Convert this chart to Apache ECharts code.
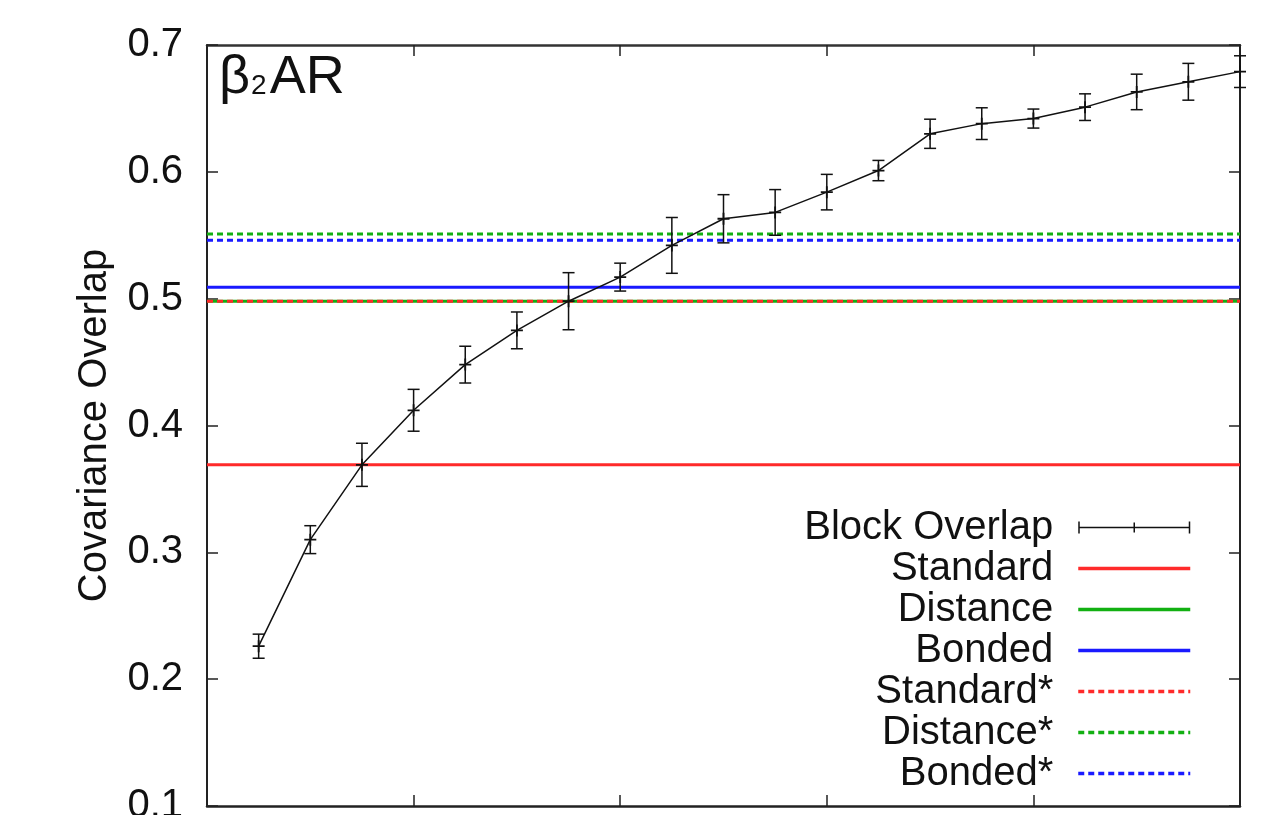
<!DOCTYPE html>
<html>
<head>
<meta charset="utf-8">
<script src="https://cdn.jsdelivr.net/npm/echarts@6/dist/echarts.min.js"></script>
<style>
  html, body { margin: 0; padding: 0; background: #ffffff; overflow: hidden; }
  #chart { width: 1272px; height: 815px; }
</style>
</head>
<body>
<div id="chart"></div>
<script>
// Block overlap vs. number of blocks, with the reference overlaps as flat lines
const blockIndex = [1, 2, 3, 4, 5, 6, 7, 8, 9, 10, 11, 12, 13, 14, 15, 16, 17, 18, 19, 20];
const blockOverlap = [0.226, 0.310, 0.369, 0.412, 0.448, 0.475, 0.498, 0.517, 0.542, 0.563,
                      0.568, 0.584, 0.601, 0.630, 0.638, 0.642, 0.651, 0.663, 0.671, 0.679];
const blockOverlapErr = [0.0095, 0.011, 0.017, 0.0165, 0.0145, 0.0145, 0.0225, 0.011, 0.022, 0.019,
                         0.018, 0.014, 0.008, 0.0115, 0.0125, 0.0075, 0.0105, 0.014, 0.0145, 0.0125];

const refNames = ['Standard', 'Distance', 'Bonded', 'Standard*', 'Distance*', 'Bonded*'];
const refValues = [0.369, 0.498, 0.509, 0.498, 0.551, 0.546];

const xRange = [0, 20];
const yRange = [0.1, 0.7];

const refColors = ['#ff2a2a', '#12b012', '#1a1aff', '#ff2a2a', '#12b012', '#1a1aff'];
const refDashed = [false, false, false, true, true, true];

const FONT = '"Liberation Sans", Arial, sans-serif';
const INK = '#111111';

const chart = echarts.init(document.getElementById('chart'), null, { renderer: 'canvas' });

const refSeries = refNames.map((name, i) => ({
  name: name,
  type: 'line',
  xAxisIndex: 0,
  yAxisIndex: 0,
  symbol: 'none',
  silent: true,
  z: 3 + i,
  data: [[xRange[0], refValues[i]], [xRange[1], refValues[i]]],
  lineStyle: {
    color: refColors[i],
    width: 3,
    type: refDashed[i] ? [6, 4] : 'solid'
  },
  itemStyle: { color: refColors[i] }
}));

const errorData = blockIndex.map((x, i) => [x, blockOverlap[i], blockOverlapErr[i]]);

const plusPath = 'path://M4.25,0h1.5v10h-1.5z M0,4.25h10v1.5h-10z';
const errLegendIcon = 'path://M0,0h1.5v12h-1.5z M110.5,0h1.5v12h-1.5z M0,5.25h112v1.5h-112z M55.25,1h1.5v10h-1.5z';

const option = {
  backgroundColor: '#ffffff',
  animation: false,
  title: {
    text: '{b|β}{s|2}{b|AR}',
    left: 214,
    top: 44,
    textStyle: {
      fontWeight: 'normal',
      rich: {
        b: { fontFamily: FONT, fontSize: 54, fontWeight: 'normal', color: INK, verticalAlign: 'bottom', lineHeight: 56 },
        s: { fontFamily: FONT, fontSize: 28, fontWeight: 'normal', color: INK, verticalAlign: 'bottom', lineHeight: 56, padding: [0, 3, 5, 1] }
      }
    }
  },
  grid: { left: 207, top: 45, width: 1033, height: 761, containLabel: false, outerBoundsMode: 'none' },
  legend: {
    orient: 'vertical',
    align: 'right',
    right: 80,
    top: 507,
    padding: 0,
    itemGap: 0,
    itemWidth: 112,
    itemHeight: 12,
    selectedMode: false,
    textStyle: {
      fontFamily: FONT,
      fontSize: 40,
      color: INK,
      lineHeight: 41,
      padding: [0, 20, 0, 0]
    },
    data: [
      { name: 'Block Overlap', icon: errLegendIcon, itemStyle: { color: INK, opacity: 1 } },
      ...refNames.map(n => ({ name: n, itemStyle: { opacity: 0 }, lineStyle: { width: 3.5 } }))
    ]
  },
  xAxis: [
    {
      type: 'value',
      position: 'bottom',
      min: xRange[0],
      max: xRange[1],
      interval: 4,
      axisLine: { show: true, onZero: false, lineStyle: { color: '#222', width: 2.5 } },
      axisTick: { show: true, inside: true, length: 11, lineStyle: { color: '#222', width: 1.5 } },
      axisLabel: { show: false },
      splitLine: { show: false }
    },
    {
      type: 'value',
      position: 'top',
      min: xRange[0],
      max: xRange[1],
      interval: 4,
      axisLine: { show: true, onZero: false, lineStyle: { color: '#333', width: 2.5 } },
      axisTick: { show: true, inside: true, length: 11, lineStyle: { color: '#222', width: 1.5 } },
      axisLabel: { show: false },
      splitLine: { show: false }
    }
  ],
  yAxis: [
    {
      type: 'value',
      position: 'left',
      min: yRange[0],
      max: yRange[1],
      interval: 0.1,
      name: 'Covariance Overlap',
      nameLocation: 'middle',
      nameRotate: 90,
      nameGap: 92,
      nameTextStyle: { fontFamily: FONT, fontSize: 40, color: INK },
      axisLine: { show: true, onZero: false, lineStyle: { color: '#222', width: 2 } },
      axisTick: { show: true, inside: true, length: 11, lineStyle: { color: '#222', width: 1.5 } },
      axisLabel: {
        show: true,
        margin: 24,
        fontFamily: FONT,
        fontSize: 40,
        color: INK,
        formatter: v => v.toFixed(1)
      },
      splitLine: { show: false }
    },
    {
      type: 'value',
      position: 'right',
      min: yRange[0],
      max: yRange[1],
      interval: 0.1,
      axisLine: { show: true, onZero: false, lineStyle: { color: '#222', width: 2 } },
      axisTick: { show: true, inside: true, length: 11, lineStyle: { color: '#222', width: 1.5 } },
      axisLabel: { show: false },
      splitLine: { show: false }
    }
  ],
  series: [
    ...refSeries,
    {
      name: 'Block Overlap',
      type: 'custom',
      xAxisIndex: 0,
      yAxisIndex: 0,
      z: 20,
      clip: false,
      silent: true,
      data: errorData,
      renderItem: function (params, api) {
        const x = api.value(0);
        const y = api.value(1);
        const e = api.value(2);
        const top = api.coord([x, y + e]);
        const bot = api.coord([x, y - e]);
        const cap = 6;
        const style = { stroke: INK, lineWidth: 1.5, fill: null };
        return {
          type: 'group',
          children: [
            { type: 'line', shape: { x1: top[0], y1: top[1], x2: bot[0], y2: bot[1] }, style: style },
            { type: 'line', shape: { x1: top[0] - cap, y1: top[1], x2: top[0] + cap, y2: top[1] }, style: style },
            { type: 'line', shape: { x1: bot[0] - cap, y1: bot[1], x2: bot[0] + cap, y2: bot[1] }, style: style }
          ]
        };
      }
    },
    {
      name: 'Block Overlap',
      type: 'line',
      xAxisIndex: 0,
      yAxisIndex: 0,
      z: 21,
      clip: false,
      silent: true,
      data: blockIndex.map((x, i) => [x, blockOverlap[i]]),
      symbol: plusPath,
      symbolSize: 12,
      showAllSymbol: true,
      lineStyle: { color: INK, width: 1.5 },
      itemStyle: { color: INK }
    }
  ]
};

chart.setOption(option);
</script>
</body>
</html>
